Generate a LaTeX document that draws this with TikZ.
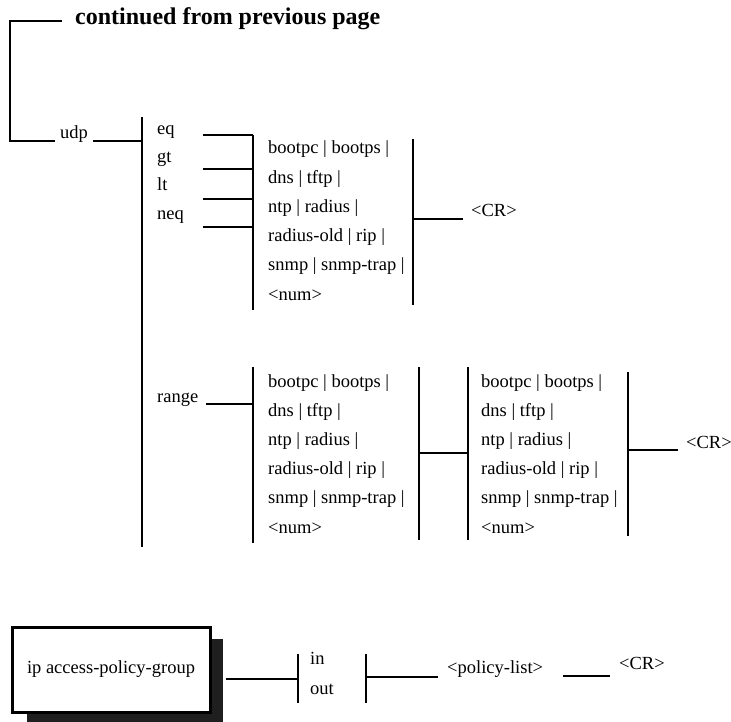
\documentclass[tikz,border=0pt]{standalone}
\usepackage{fontspec}
\setmainfont{Liberation Serif}
\begin{document}
\begin{tikzpicture}[x=1pt,y=-1pt,
  ln/.style={line width=1.7pt, black},
  lbl/.style={font=\fontsize{18.5}{20}\selectfont, inner sep=0pt, anchor=base west},
  ttl/.style={font=\bfseries\fontsize{24}{26}\selectfont, inner sep=0pt, anchor=base west},
  cmdbox/.style={draw=black, line width=3pt, fill=white, minimum width=198pt, minimum height=85pt, font=\fontsize{18.5}{20}\selectfont, inner sep=0pt}]
\useasboundingbox (0,0) rectangle (731,722);

% ---------- title and left spine ----------
\node[ttl] (title) at (75,25) {continued from previous page};
\node[lbl] (udp) at (60,139) {udp};
\coordinate (sA) at (62,21);
\coordinate (sB) at (10,21);
\coordinate (sC) at (10,141);
\coordinate (sD) at (55,141);
\draw[ln] (sA) -- (sB) -- (sC) -- (sD);

% udp bar
\coordinate (u0) at (93,141);
\coordinate (b1t) at (142,117);
\coordinate (b1b) at (142,547);
\coordinate (b1m) at (142,141);
\draw[ln] (b1t) -- (b1b);
\draw[ln] (u0) -- (b1m);

% ---------- eq / gt / lt / neq ----------
\node[lbl] (eq)  at (157,135) {eq};
\node[lbl] (gt)  at (157,163) {gt};
\node[lbl] (lt)  at (157,191) {lt};
\node[lbl] (neq) at (157,220) {neq};

\coordinate (e0) at (203,135); \coordinate (e1) at (253,135);
\coordinate (g0) at (203,169); \coordinate (g1) at (253,169);
\coordinate (l0) at (203,199); \coordinate (l1) at (253,199);
\coordinate (n0) at (203,227); \coordinate (n1) at (253,227);
\coordinate (b2b) at (253,310);
\draw[ln] (e0) -- (e1);
\draw[ln] (g0) -- (g1);
\draw[ln] (l0) -- (l1);
\draw[ln] (n0) -- (n1);
\draw[ln] (e1) -- (b2b);

\node[lbl] (o1) at (268,154.0) {bootpc | bootps |};
\node[lbl] (o2) at (268,183.2) {dns | tftp |};
\node[lbl] (o3) at (268,212.4) {ntp | radius |};
\node[lbl] (o4) at (268,241.6) {radius-old | rip |};
\node[lbl] (o5) at (268,270.8) {snmp | snmp-trap |};
\node[lbl] (o6) at (268,300.0) {<num>};

\coordinate (b3t) at (413,139);
\coordinate (b3b) at (413,305);
\coordinate (b3m) at (413,219);
\coordinate (cr1l) at (463,219);
\draw[ln] (b3t) -- (b3b);
\draw[ln] (b3m) -- (cr1l);
\node[lbl] (cr1) at (471,217) {<CR>};

% ---------- range ----------
\node[lbl] (range) at (157,402) {range};
\coordinate (r0) at (206,404);
\coordinate (r1) at (253,404);
\coordinate (b4t) at (253,367);
\coordinate (b4b) at (253,543);
\draw[ln] (b4t) -- (b4b);
\draw[ln] (r0) -- (r1);

\node[lbl] (p1) at (268,387.0) {bootpc | bootps |};
\node[lbl] (p2) at (268,416.2) {dns | tftp |};
\node[lbl] (p3) at (268,445.4) {ntp | radius |};
\node[lbl] (p4) at (268,474.6) {radius-old | rip |};
\node[lbl] (p5) at (268,503.8) {snmp | snmp-trap |};
\node[lbl] (p6) at (268,533.0) {<num>};

\coordinate (b5t) at (419,367);
\coordinate (b5b) at (419,540);
\coordinate (b5m) at (419,453);
\coordinate (b6t) at (468,367);
\coordinate (b6b) at (468,540);
\coordinate (b6m) at (468,453);
\draw[ln] (b5t) -- (b5b);
\draw[ln] (b6t) -- (b6b);
\draw[ln] (b5m) -- (b6m);

\node[lbl] (q1) at (481,387.0) {bootpc | bootps |};
\node[lbl] (q2) at (481,416.2) {dns | tftp |};
\node[lbl] (q3) at (481,445.4) {ntp | radius |};
\node[lbl] (q4) at (481,474.6) {radius-old | rip |};
\node[lbl] (q5) at (481,503.8) {snmp | snmp-trap |};
\node[lbl] (q6) at (481,533.0) {<num>};

\coordinate (b7t) at (628,372);
\coordinate (b7b) at (628,536);
\coordinate (b7m) at (628,450);
\coordinate (cr2l) at (678,450);
\draw[ln] (b7t) -- (b7b);
\draw[ln] (b7m) -- (cr2l);
\node[lbl] (cr2) at (686,448) {<CR>};

% ---------- ip access-policy-group ----------
\fill[black!88] (27,639) rectangle (223,722);
\node[cmdbox] (cmd) at (111,669.5) {ip access-policy-group};
\coordinate (c0) at (226,679);
\coordinate (c1) at (298,679);
\coordinate (b8t) at (298,654);
\coordinate (b8b) at (298,703);
\draw[ln] (b8t) -- (b8b);
\draw[ln] (c0) -- (c1);
\node[lbl] (in)  at (310,664) {in};
\node[lbl] (out) at (310,694) {out};
\coordinate (b9t) at (366,654);
\coordinate (b9b) at (366,703);
\coordinate (b9m) at (366,677);
\coordinate (pl0) at (438,677);
\draw[ln] (b9t) -- (b9b);
\draw[ln] (b9m) -- (pl0);
\node[lbl] (pl) at (447,673) {<policy-list>};
\coordinate (cr3a) at (563,676);
\coordinate (cr3b) at (610,676);
\draw[ln] (cr3a) -- (cr3b);
\node[lbl] (cr3) at (619,669) {<CR>};
\end{tikzpicture}
\end{document}
